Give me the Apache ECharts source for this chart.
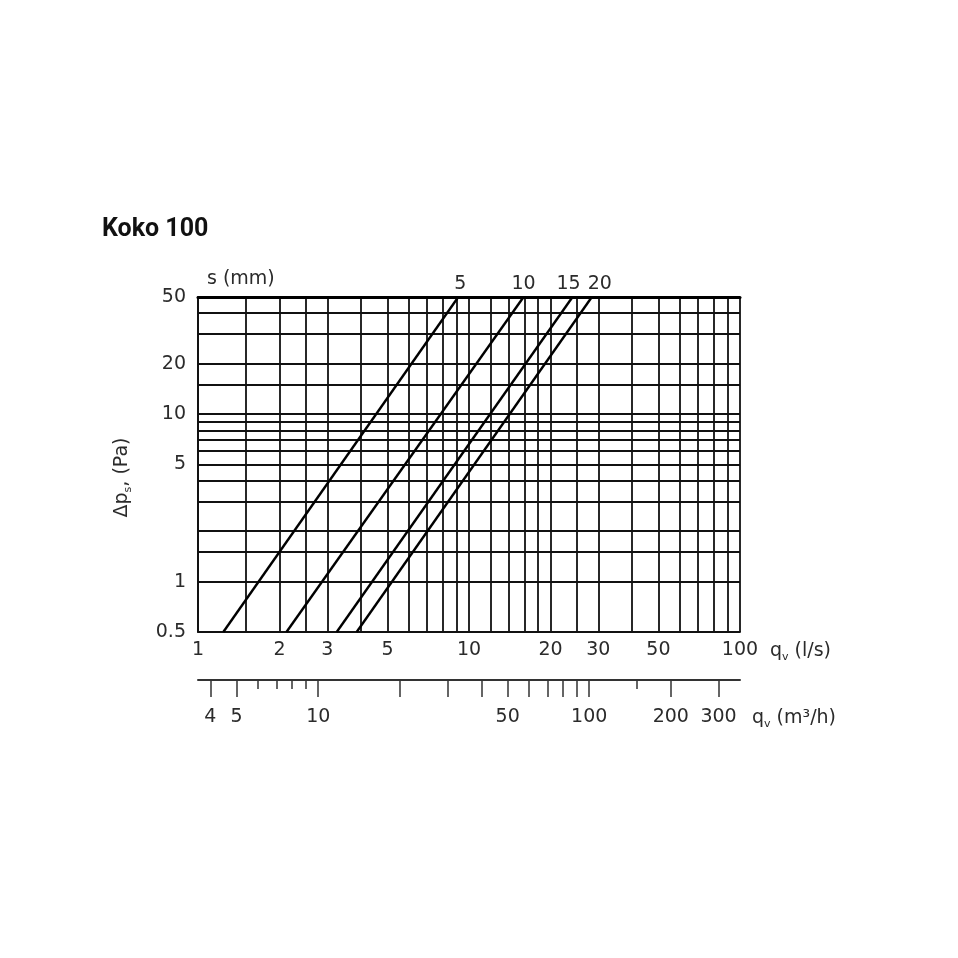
<!DOCTYPE html>
<html>
<head>
<meta charset="utf-8">
<script src="https://cdn.jsdelivr.net/npm/echarts@6/dist/echarts.min.js"></script>
<style>
  html, body { margin: 0; padding: 0; background: #fff; }
  #chart { width: 958px; height: 958px; }
</style>
</head>
<body>
<div id="chart"></div>
<script>
// grid lines and labels, l/s
var qGrid = [1, 1.5, 2, 2.5, 3, 4, 5, 6, 7, 8, 9, 10, 12, 14, 16, 18, 20, 25, 30, 40, 50, 60, 70, 80, 90, 100]
var qLabels = [1, 2, 3, 5, 10, 20, 30, 50, 100]
// grid lines and labels, Pa
var dpGrid = [0.5, 1, 1.5, 2, 3, 4, 5, 6, 7, 8, 9, 10, 15, 20, 30, 40, 50]
var dpLabels = [0.5, 1, 5, 10, 20, 50]
// second flow scale, m3/h
var m3hMajor = [4, 5, 10, 20, 30, 40, 50, 60, 70, 80, 90, 100, 200, 300]
var m3hMinor = [6, 7, 8, 9, 150]
var m3hLabels = [4, 5, 10, 50, 100, 200, 300]
// slot width lines: flow at 0.5 Pa and at 50 Pa
var slots = ['5', '10', '15', '20']
var qAtLow = [1.24, 2.12, 3.25, 3.85]
var qAtHigh = [9.13, 15.9, 24.1, 28.4]
var dpEnds = [0.5, 50]

var lg = Math.log10
var fmt = function (v) { return String(Number(Math.pow(10, v).toPrecision(4))) }
var font = '"DejaVu Sans", sans-serif'
var txt = '#2b2b2b'
var fs = 19
var gridLine = { color: '#111', width: 1.8 }
var subRich = {
  sub: { fontSize: 11, fontFamily: font, color: txt, verticalAlign: 'bottom', padding: [12, 0, 0, 0] }
}
var labelShift = [2, 0, -4, 8]

var myChart = echarts.init(document.getElementById('chart'))

var option = {
  animation: false,
  title: [
    { text: 'Koko 100', left: 97, top: 212, textStyle: { fontFamily: 'Roboto, sans-serif', fontSize: 25, fontWeight: 'bold', color: '#111' } },
    { text: 's (mm)', left: 202, top: 265, textStyle: { fontFamily: font, fontSize: fs, fontWeight: 'normal', color: txt } }
  ],
  grid: { left: 198, top: 297, width: 542, height: 335 },
  xAxis: [
    {
      type: 'value', min: 0, max: 2, position: 'bottom',
      axisLine: { onZero: false, lineStyle: gridLine },
      axisTick: { show: false, customValues: qGrid.map(lg) },
      axisLabel: { customValues: qLabels.map(lg), formatter: fmt, margin: 9, fontFamily: font, fontSize: fs, color: txt },
      splitLine: { show: true, lineStyle: gridLine },
      name: 'q{sub|v} (l/s)', nameLocation: 'end', nameGap: 30,
      nameTextStyle: { fontFamily: font, fontSize: fs, color: txt, padding: [38, 0, 0, 0], rich: subRich }
    },
    {
      type: 'value', min: 0, max: 2, position: 'top',
      axisLine: { onZero: false, lineStyle: { color: '#000', width: 3 } },
      axisTick: { show: false }, axisLabel: { show: false }, splitLine: { show: false }
    },
    {
      type: 'value', min: lg(3.6), max: lg(360), position: 'bottom', offset: 48,
      axisLine: { onZero: false, lineStyle: { color: '#333', width: 2 } },
      axisTick: { customValues: m3hMajor.map(lg), length: 17, lineStyle: { color: '#333', width: 1.5 } },
      axisLabel: { customValues: m3hLabels.map(lg), formatter: fmt, margin: 28, fontFamily: font, fontSize: fs, color: txt },
      splitLine: { show: false },
      name: 'q{sub|v} (m³/h)', nameLocation: 'end', nameGap: 12,
      nameTextStyle: { fontFamily: font, fontSize: fs, color: txt, padding: [76, 0, 0, 0], rich: subRich }
    },
    {
      type: 'value', min: lg(3.6), max: lg(360), position: 'bottom', offset: 48,
      axisLine: { show: false, onZero: false },
      axisTick: { customValues: m3hMinor.map(lg), length: 9, lineStyle: { color: '#333', width: 1.5 } },
      axisLabel: { show: false }, splitLine: { show: false }
    }
  ],
  yAxis: {
    type: 'value', min: lg(0.5), max: lg(50),
    axisLine: { show: true, onZero: false, lineStyle: gridLine },
    axisTick: { show: false, customValues: dpGrid.map(lg) },
    axisLabel: { customValues: dpLabels.map(lg), formatter: fmt, margin: 12, fontFamily: font, fontSize: fs, color: txt },
    splitLine: { show: true, lineStyle: gridLine },
    name: 'Δp{sub|s}, (Pa)', nameLocation: 'middle', nameRotate: 90, nameGap: 64,
    nameTextStyle: { fontFamily: font, fontSize: fs, color: txt, padding: [0, 26, 0, 0], rich: subRich }
  },
  series: slots.map(function (s, i) {
    return {
      name: s,
      type: 'line',
      xAxisIndex: 0,
      yAxisIndex: 0,
      symbol: 'circle',
      symbolSize: 0,
      silent: true,
      lineStyle: { color: '#000', width: 2.4 },
      data: [
        [lg(qAtLow[i]), lg(dpEnds[0])],
        {
          value: [lg(qAtHigh[i]), lg(dpEnds[1])],
          label: { show: true, position: 'top', distance: 3, offset: [labelShift[i], 0], formatter: s, fontFamily: font, fontSize: fs, color: txt }
        }
      ]
    }
  })
}

myChart.setOption(option)
</script>
</body>
</html>
